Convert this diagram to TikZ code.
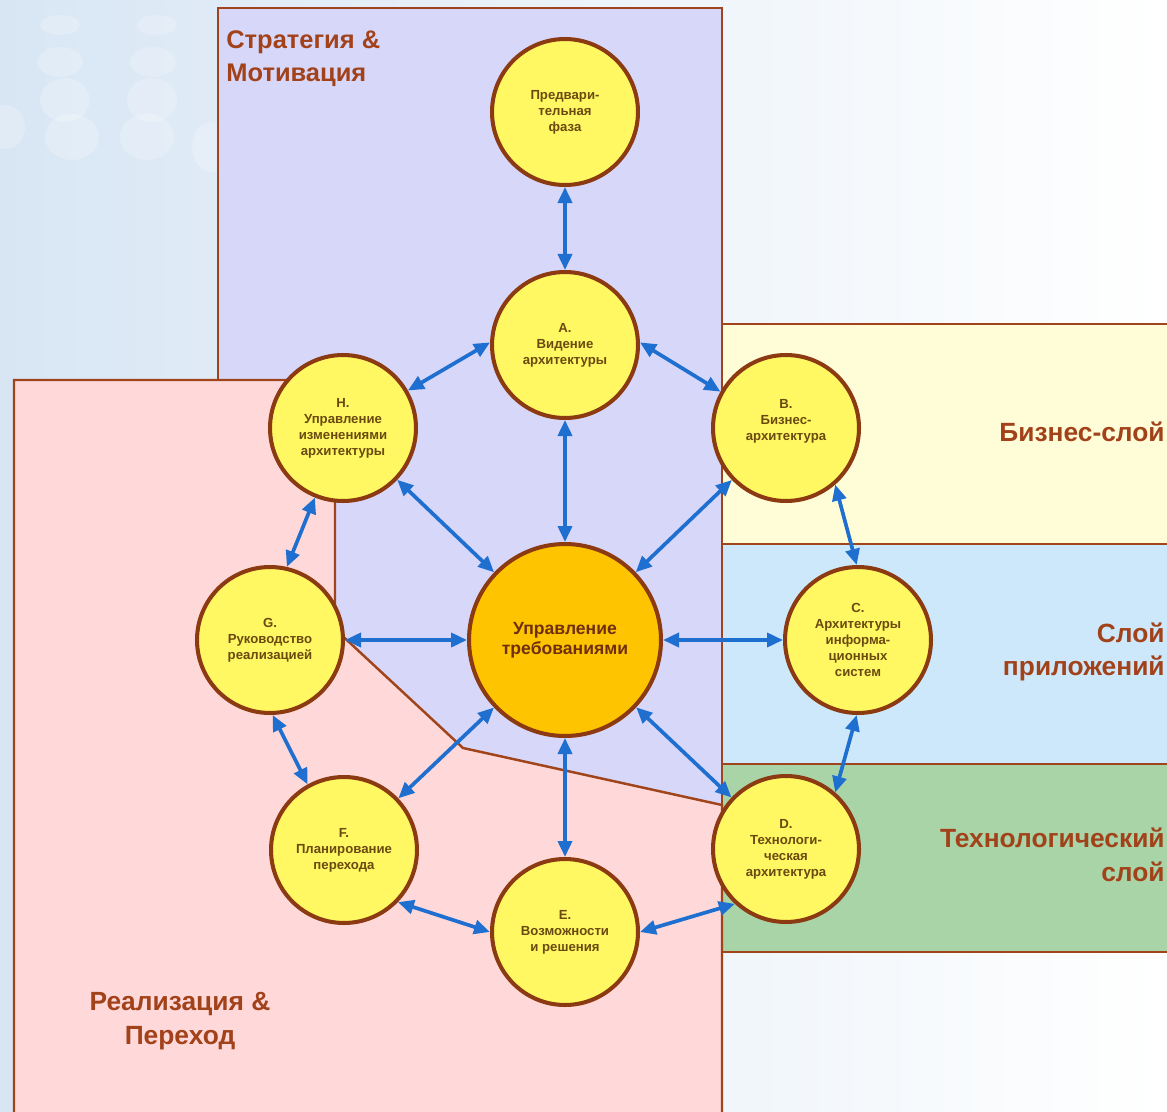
\documentclass[tikz,border=0pt]{standalone}
\usepackage{fontspec}
\setmainfont{Liberation Sans}
\usetikzlibrary{shapes,arrows.meta,positioning}

\definecolor{bgblue}{HTML}{D8E6F4}
\definecolor{stratfill}{HTML}{D7D7FA}
\definecolor{implfill}{HTML}{FFD9D9}
\definecolor{busfill}{HTML}{FFFDD8}
\definecolor{appfill}{HTML}{CDE8FB}
\definecolor{techfill}{HTML}{A8D4A8}
\definecolor{frame}{HTML}{A0441C}
\definecolor{rim}{HTML}{8B3A12}
\definecolor{phasefill}{HTML}{FFF862}
\definecolor{corefill}{HTML}{FFC400}
\definecolor{phasetext}{HTML}{6A4A10}
\definecolor{labeltext}{HTML}{A2421A}
\definecolor{linkblue}{HTML}{1E6FD0}

\begin{document}
\begin{tikzpicture}[x=0.02cm,y=-0.02cm,
    phase/.style={circle,draw=rim,line width=2.3pt,fill=phasefill,minimum size=2.92cm,inner sep=0pt,
      align=center,text=phasetext,font=\fontsize{7.5}{9.1}\selectfont\bfseries},
    core/.style={phase,fill=corefill,minimum size=3.84cm,text=rim!80!black,font=\fontsize{10}{11.5}\selectfont\bfseries},
    link/.style={<->,>={Triangle[length=0.32cm,width=0.28cm]},line width=2.1pt,draw=linkblue},
    layer/.style={draw=frame,line width=1.4pt},
    lbl/.style={text=labeltext,inner sep=0pt,font=\fontsize{14.5}{19}\selectfont\bfseries},
    bubble/.style={fill=white,opacity=0.22}]
    \useasboundingbox (0,0) rectangle (1167,1112);
    \clip (0,0) rectangle (1167,1112);
    % Background
    \shade[left color=bgblue,right color=white] (0,0) rectangle (1167,1112);
    \foreach \bx/\by/\bw/\bh in {60/25/20/10, 60/62/23/15, 65/100/25/22, 72/137/27/23,
        157/25/20/10, 153/62/23/15, 152/100/25/22, 147/137/27/23, 5/127/20/22, 212/147/20/25}
      \fill[bubble] (\bx,\by) ellipse [x radius=\bw, y radius=\bh];
    % Strategy & Motivation
    \draw[layer,fill=stratfill] (218,8) rectangle (722,805);
    % Layers
    \draw[layer,fill=busfill] (722,324) rectangle (1200,544);
    \draw[layer,fill=appfill] (722,544) rectangle (1200,764);
    \draw[layer,fill=techfill] (722,764) rectangle (1200,952);
    % Implementation & Migration
    \draw[layer,fill=implfill] (14,1130) -- (14,380) -- (335,380) -- (335,629) -- (463,748) -- (722,805) -- (722,1130);

    % Labels
    \node[lbl,anchor=north west,align=left] (stratlbl) at (226,30) {Стратегия \&\\Мотивация};
    \node[lbl,anchor=east,align=right,font=\fontsize{15}{19}\selectfont\bfseries] (buslbl) at (1165,432) {Бизнес-слой};
    \node[lbl,anchor=east,align=right,font=\fontsize{15}{19}\selectfont\bfseries] (applbl) at (1165,652) {Слой\\приложений};
    \node[lbl,anchor=east,align=right,font=\fontsize{15}{19}\selectfont\bfseries] (techlbl) at (1165,855) {Технологический\\слой};
    \node[lbl,align=center,font=\fontsize{15}{19}\selectfont\bfseries] (impllbl) at (180,1021) {Реализация \&\\Переход};

    % Phases
    \node[phase] (prelim) at (565,112) {Предвари-\\тельная\\фаза};
    \node[phase] (vision) at (565,345) {A.\\Видение\\архитектуры};
    \node[phase] (change) at (343,428) {H.\\Управление\\изменениями\\архитектуры};
    \node[phase] (business) at (786,428) {B.\\Бизнес-\\архитектура\\\mbox{}};
    \node[phase] (governance) at (270,640) {G.\\Руководство\\реализацией};
    \node[core] (reqs) at (565,640) {Управление\\требованиями};
    \node[phase] (infosys) at (858,640) {C.\\Архитектуры\\информа-\\ционных\\систем};
    \node[phase] (migration) at (344,850) {F.\\Планирование\\перехода};
    \node[phase] (tech) at (786,849) {D.\\Технологи-\\ческая\\архитектура};
    \node[phase] (solutions) at (565,932) {E.\\Возможности\\и решения};

    % Links to requirements management
    \foreach \ph in {vision,change,business,governance,infosys,migration,tech,solutions}
      \draw[link] (\ph) -- (reqs);
    % Links around the cycle
    \draw[link] (prelim) -- (vision);
    \draw[link] (vision.178) -- (change.30);
    \draw[link] (vision.2) -- (business.151);
    \draw[link] (change.-112) -- (governance.77);
    \draw[link] (governance.-88) -- (migration.119);
    \draw[link] (migration.-44) -- (solutions.180);
    \draw[link] (solutions.0) -- (tech.-133);
    \draw[link] (tech.49) -- (infosys.-91);
    \draw[link] (infosys.91) -- (business.-49);
\end{tikzpicture}
\end{document}
